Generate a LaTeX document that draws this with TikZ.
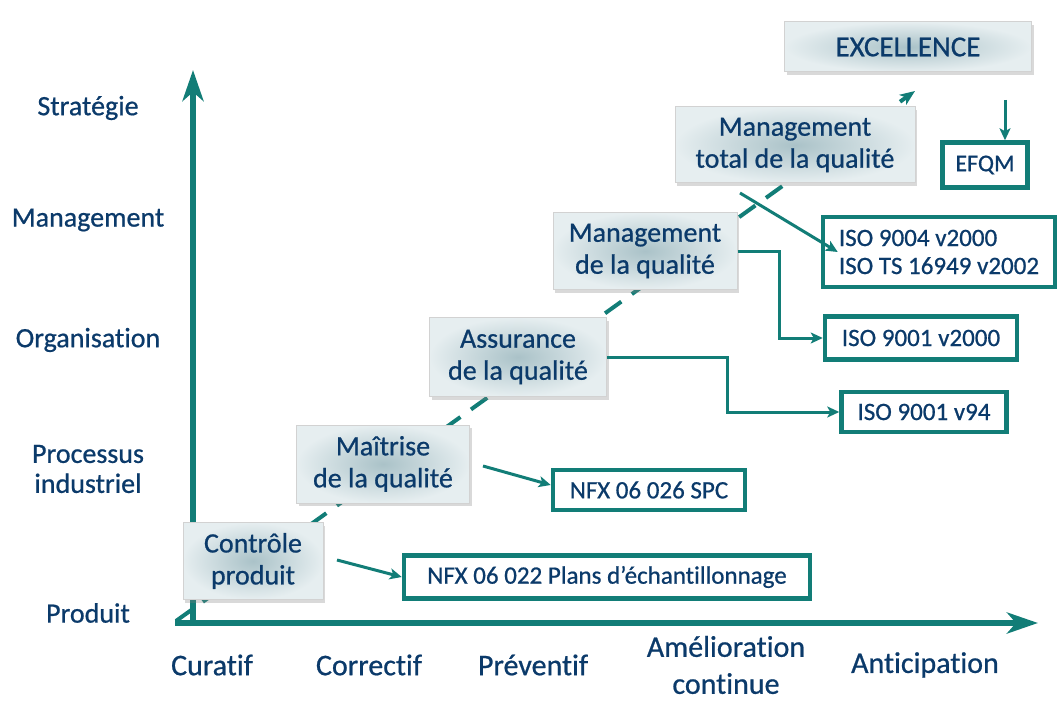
\documentclass[tikz,border=0pt]{standalone}
\usepackage{fontspec}
\setmainfont{Carlito}[FakeBold=0.7,Ligatures=NoCommon]
\usetikzlibrary{arrows.meta,shadows,calc}
\definecolor{teal1}{HTML}{127D77}
\definecolor{navy}{HTML}{0B3A6A}
\definecolor{boxin}{HTML}{AAC2C8}
\definecolor{boxout}{HTML}{E6EEF0}
\begin{document}
\begin{tikzpicture}[x=1pt,y=-1pt,
  stagebox/.style={draw=gray!35, line width=1pt, shading=radial,
    inner color=boxin, outer color=boxout,
    drop shadow={shadow xshift=2pt, shadow yshift=-3pt, opacity=0.3},
    text=navy, align=center, inner sep=0pt,
    font=\fontsize{28}{32}\selectfont},
  refbox/.style={draw=teal1, line width=4.5pt, fill=white, text=navy,
    align=left, inner sep=0pt, font=\fontsize{25}{28}\selectfont},
  axislabel/.style={text=navy, align=center, font=\fontsize{28}{30}\selectfont},
  xlabel/.style={text=navy, align=center, font=\fontsize{30}{37}\selectfont},
  axis/.style={draw=teal1, line width=5.5pt, -{Stealth[length=31pt,width=21pt,inset=9pt]}},
  conn/.style={draw=teal1, line width=3pt, -{Stealth[length=12pt,width=11pt,inset=3pt]}},
  diag/.style={draw=teal1, line width=4pt, dash pattern=on 20pt off 13pt,
    -{Stealth[length=15pt,width=12pt,inset=4pt]}}
]
\useasboundingbox (0,0) rectangle (1058,706);

% axes
\coordinate (yb) at (193,626);
\coordinate (yt) at (193,70);
\coordinate (xl) at (175,623);
\coordinate (xr) at (1038,623);
\draw[axis] (yb) -- (yt);
\draw[axis] (xl) -- (xr);

% diagonal dashed trend
\coordinate (d0) at (176,621);
\coordinate (d1) at (915,91);
\draw[diag] (d0) -- (d1);

% y labels
\node[axislabel] (ls) at (88,108) {Stratégie};
\node[axislabel] (lm) at (88,220) {Management};
\node[axislabel] (lo) at (88,340) {Organisation};
\node[axislabel] (lp) at (88,469) {Processus\\industriel};
\node[axislabel] (lpr) at (88,613) {Produit};

% x labels
\node[xlabel] (cur) at (212,665) {Curatif};
\node[xlabel] (cor) at (369,665) {Correctif};
\node[xlabel] (prev) at (533,665) {Préventif};
\node[xlabel] (amel) at (726,665) {Amélioration\\continue};
\node[xlabel] (anti) at (925,665) {Anticipation};

% stage boxes
\node[stagebox, minimum width=140pt, minimum height=77pt] (ctrl) at (253,561) {Contrôle\\produit};
\node[stagebox, minimum width=173pt, minimum height=78pt] (mait) at (383,464) {Maîtrise\\de la qualité};
\node[stagebox, minimum width=177pt, minimum height=79pt] (assu) at (518,357) {Assurance\\de la qualité};
\node[stagebox, minimum width=184pt, minimum height=77pt] (mgmt) at (645,251) {Management\\de la qualité};
\node[stagebox, minimum width=240pt, minimum height=76pt] (tqm) at (795,145) {Management\\total de la qualité};
\node[stagebox, minimum width=247pt, minimum height=50pt, font=\fontsize{29}{32}\selectfont] (exc) at (908,47) {EXCELLENCE};

% reference boxes
\node[refbox, minimum width=85pt, minimum height=45pt, font=\fontsize{24}{28}\selectfont] (efqm) at (985,165) {EFQM};
\node[refbox, minimum width=232pt, minimum height=70pt] (iso9004) at (939,252) {ISO 9004 v2000\\ISO TS 16949 v2002};
\node[refbox, minimum width=192pt, minimum height=43pt] (iso2000) at (921,338) {ISO 9001 v2000};
\node[refbox, minimum width=165pt, minimum height=40pt] (iso94) at (924,412) {ISO 9001 v94};
\node[refbox, minimum width=192pt, minimum height=40pt] (spc) at (649,490) {NFX 06 026 SPC};
\node[refbox, minimum width=406pt, minimum height=43pt] (nfx) at (607,577) {NFX 06 022 Plans d{\char39}échantillonnage};

% connectors
\coordinate (e0) at (1005,100);
\draw[conn] (e0) -- (efqm.north -| e0);
\coordinate (t0) at (740,193);
\draw[conn] (t0) -- ($(iso9004.west)+(17,0)$);
\draw[conn] (mgmt.east) -- (779,251) |- (iso2000.west);
\draw[conn] (assu.east) -- (727,357) |- (iso94.west);
\coordinate (m0) at (483,466);
\draw[conn] (m0) -- ($(spc.west)+(0,-5)$);
\coordinate (c0) at (337,560);
\draw[conn] (c0) -- (nfx.west);
\end{tikzpicture}
\end{document}
